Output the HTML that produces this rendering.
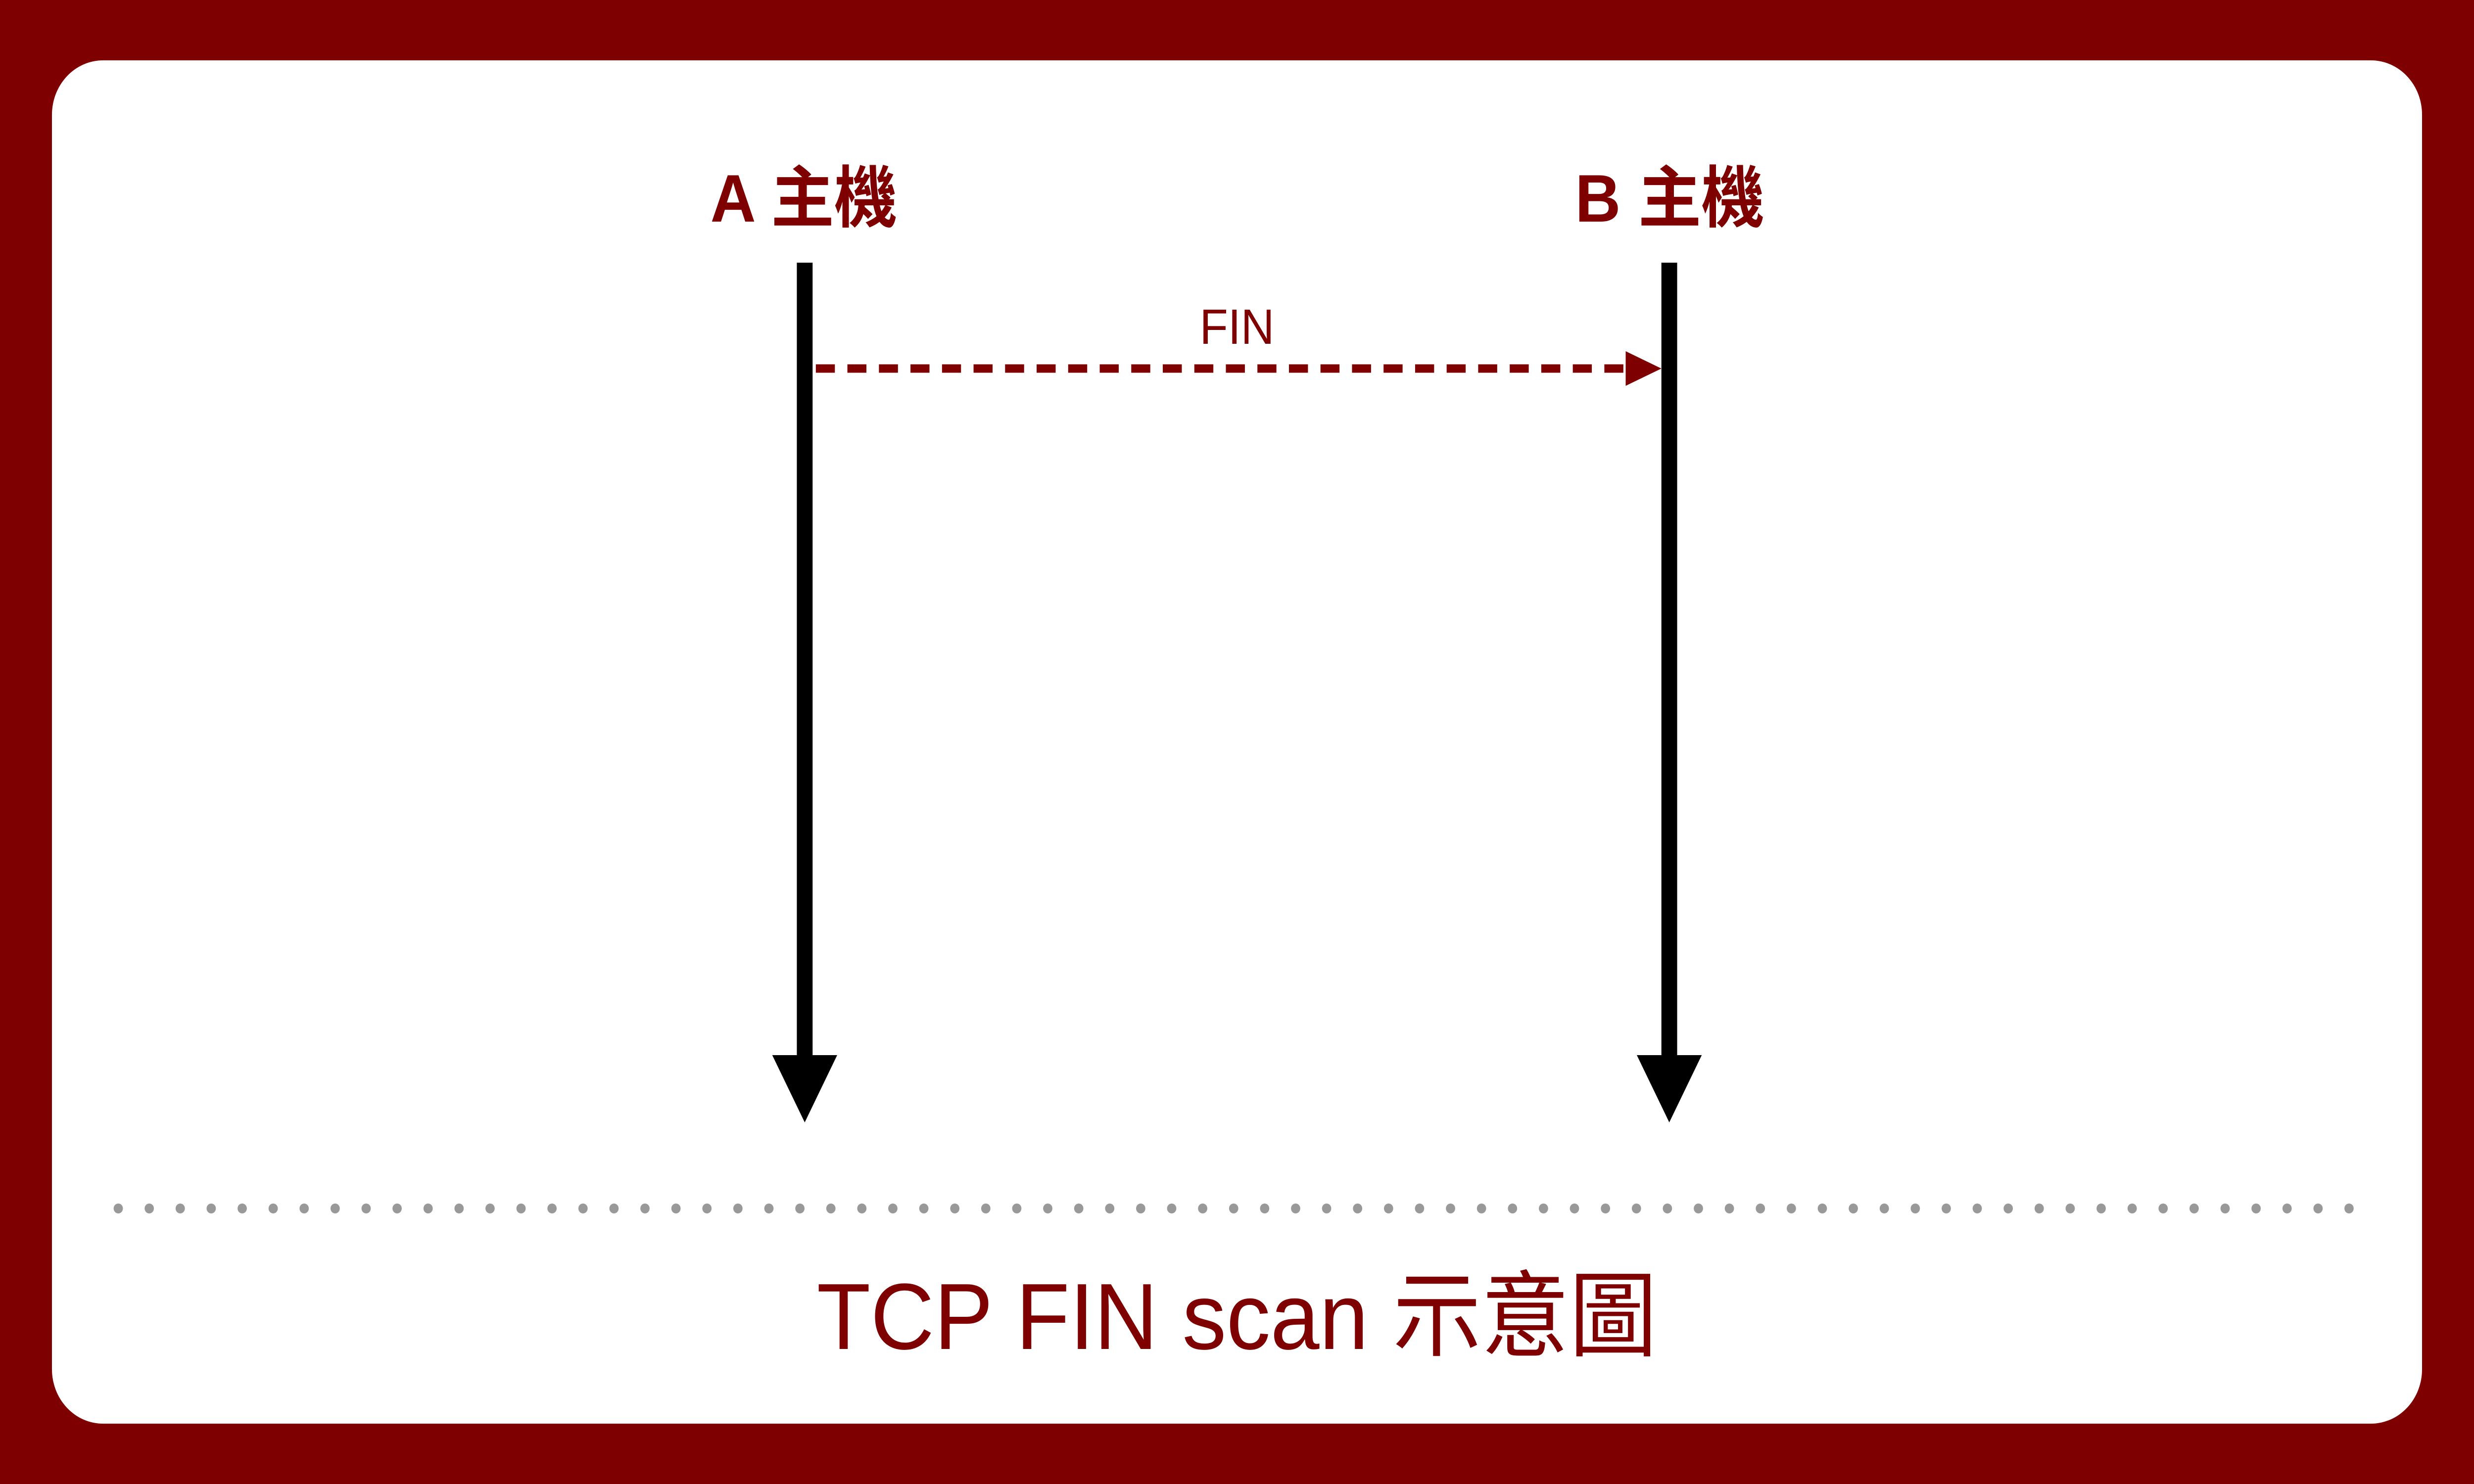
<!DOCTYPE html>
<html><head><meta charset="utf-8"><style>
html,body{margin:0;padding:0;background:#7f0000;width:100%;height:100%;overflow:hidden;}
svg{display:block;width:100vw;height:100vh}
text{font-family:"Liberation Sans","Noto Sans CJK TC",sans-serif;fill:#7f0000;}
</style></head><body>
<svg viewBox="0 0 5334 3000" preserveAspectRatio="none" xmlns="http://www.w3.org/2000/svg">
<rect x="0" y="0" width="5334" height="3000" fill="#7f0000"/>
<rect x="112" y="122" width="5110" height="2756" rx="110" ry="110" fill="#ffffff"/>
<text x="1733" y="448" font-size="136" font-weight="bold" text-anchor="middle">A 主機</text>
<text x="3600" y="448" font-size="136" font-weight="bold" text-anchor="middle">B 主機</text>
<rect x="1718" y="531" width="34" height="1610" fill="#000"/>
<polygon points="1665,2133 1805,2133 1735,2269" fill="#000"/>
<rect x="3582" y="531" width="34" height="1610" fill="#000"/>
<polygon points="3529,2133 3669,2133 3599,2269" fill="#000"/>
<text x="2667" y="695" font-size="100" text-anchor="middle">FIN</text>
<line x1="1759" y1="745" x2="3510" y2="745" stroke="#7f0000" stroke-width="17" stroke-dasharray="41 27"/>
<polygon points="3505,710 3582,745 3505,780" fill="#7f0000"/>
<line x1="255" y1="2443" x2="5070" y2="2443" stroke="#999" stroke-width="20" stroke-linecap="round" stroke-dasharray="0 66.8"/>
<text x="2667" y="2727" font-size="190" text-anchor="middle">TCP FIN scan 示意圖</text>
</svg>
</body></html>
